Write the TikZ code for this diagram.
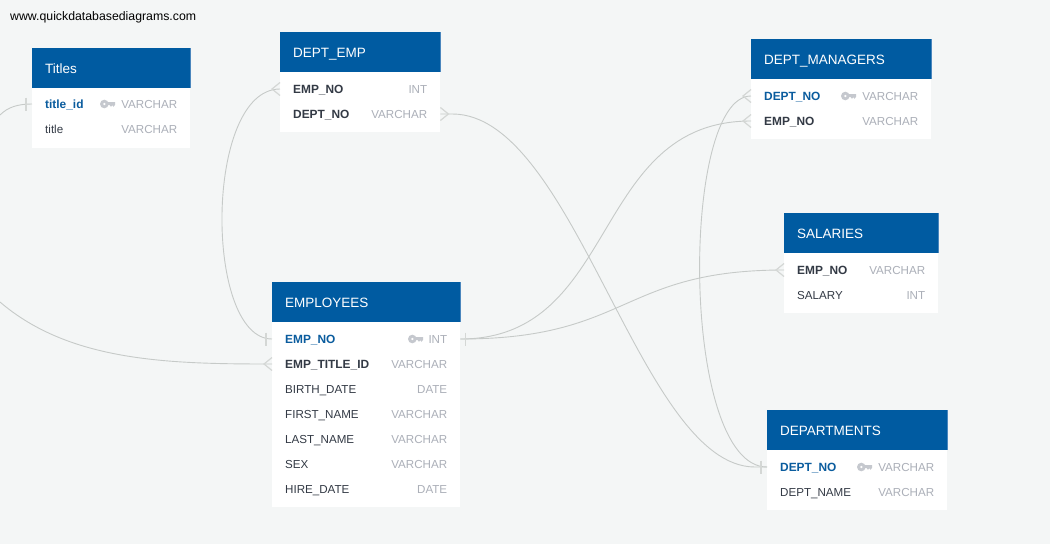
\documentclass[tikz,border=0pt]{standalone}
\usepackage{fontspec}
\setmainfont{Liberation Sans}
\usetikzlibrary{calc}
\definecolor{pagebg}{HTML}{F4F6F6}
\definecolor{headblue}{HTML}{005BA1}
\definecolor{headedge}{HTML}{4A86BD}
\definecolor{keyblue}{HTML}{0A5C9E}
\definecolor{rowtext}{HTML}{333A45}
\definecolor{typetext}{HTML}{ABAFB8}
\definecolor{keygrey}{HTML}{C5C8CE}
\definecolor{linkgrey}{HTML}{C6CAC8}
\definecolor{endgrey}{HTML}{D4D7D5}
\tikzset{
  headbox/.style={fill=headblue, text=white, anchor=north west, inner sep=0pt, minimum height=40pt, text height=10pt, text depth=0pt, font=\fontsize{13.5}{13.5}\selectfont},
  bodybox/.style={fill=white, anchor=north west, inner sep=0pt},
  rowbox/.style={anchor=west, inner sep=0pt, minimum height=25pt},
  colplain/.style={anchor=mid west, inner sep=0pt, text=rowtext, font=\fontsize{11.6}{11.6}\selectfont},
  colfk/.style={colplain, font=\fontsize{11.9}{11.9}\selectfont\bfseries},
  colpk/.style={colfk, text=keyblue},
  coltype/.style={anchor=mid east, inner sep=0pt, text=typetext, font=\fontsize{11.6}{11.6}\selectfont},
  link/.style={draw=linkgrey, line width=0.9pt},
  linkend/.style={draw=endgrey, line width=1.2pt},
  keyicon/.style={fill=keygrey, even odd rule}
}
% table: name, x, top, width, body height, title
\newcommand{\tablehead}[6]{
  \node[headbox, minimum width=#4pt, text width=#4pt-26pt, align=left] (#1) at (#2,#3) {#6};
  \node[bodybox, minimum width=#4pt, minimum height=#5pt] (#1_body) at (#2,#3+40) {};
  \draw[headedge, line width=0.8pt] ($(#1.north east)+(-0.4,0)$) -- ($(#1.south east)+(-0.4,0)$);
}
% row: name, x, y, width, column style, label, type
\newcommand{\tablerow}[7]{
  \node[rowbox, minimum width=#4pt] (#1) at (#2,#3) {};
  \node[#5] (#1_label) at ($(#1.west)+(13,2)$) {#6};
  \node[coltype] (#1_type) at ($(#1.east)+(-13,2)$) {#7};
}
% key glyph, right end given
\newcommand{\keyglyph}[2]{
  \fill[keyicon] (#1-10.7,#2) circle (4.3) (#1-10.7,#2) circle (1.5);
  \fill[keygrey] (#1-7,#2-1.8) -- (#1,#2-1.8) -- (#1,#2+0.8) -- (#1-1.4,#2+2.8) -- (#1-2.8,#2+1.2) -- (#1-4,#2+2.8) -- (#1-5.2,#2+1.2) -- (#1-7,#2+1.2) -- cycle;
}
% connector ends
\newcommand{\tickend}[2]{
  \draw[linkend] ($(#1)+(#2,-6.5)$) -- ($(#1)+(#2,6.5)$);
}
\newcommand{\crowend}[2]{
  \draw[linkend] ($(#1)+(0,-6.5)$) -- ($(#1)+(#2,0)$) -- ($(#1)+(0,6.5)$);
}
\begin{document}
\begin{tikzpicture}[x=1pt, y=-1pt]
\useasboundingbox[fill=pagebg] (0,0) rectangle (1050,544);

\node[anchor=mid west, inner sep=0pt, font=\fontsize{12.3}{12.3}\selectfont] (site) at (10,18) {www.quickdatabasediagrams.com};

% tables
\tablehead{titles}{32}{48}{158}{60}{Titles}
\tablerow{title_id}{32}{104}{158}{colpk}{title\_id}{VARCHAR}
\tablerow{title_col}{32}{129}{158}{colplain}{title}{VARCHAR}
\keyglyph{115}{104}

\tablehead{dept_emp}{280}{32}{160}{60}{DEPT\_EMP}
\tablerow{de_emp_no}{280}{89}{160}{colfk}{EMP\_NO}{INT}
\tablerow{de_dept_no}{280}{114}{160}{colfk}{DEPT\_NO}{VARCHAR}

\tablehead{dept_managers}{751}{39}{180}{60}{DEPT\_MANAGERS}
\tablerow{dm_dept_no}{751}{96}{180}{colpk}{DEPT\_NO}{VARCHAR}
\tablerow{dm_emp_no}{751}{121}{180}{colfk}{EMP\_NO}{VARCHAR}
\keyglyph{856}{96}

\tablehead{salaries}{784}{213}{154}{60}{SALARIES}
\tablerow{sa_emp_no}{784}{270}{154}{colfk}{EMP\_NO}{VARCHAR}
\tablerow{sa_salary}{784}{295}{154}{colplain}{SALARY}{INT}

\tablehead{employees}{272}{282}{188}{185}{EMPLOYEES}
\tablerow{em_emp_no}{272}{339}{188}{colpk}{EMP\_NO}{INT}
\tablerow{em_title_id}{272}{364}{188}{colfk}{EMP\_TITLE\_ID}{VARCHAR}
\tablerow{em_birth}{272}{389}{188}{colplain}{BIRTH\_DATE}{DATE}
\tablerow{em_first}{272}{414}{188}{colplain}{FIRST\_NAME}{VARCHAR}
\tablerow{em_last}{272}{439}{188}{colplain}{LAST\_NAME}{VARCHAR}
\tablerow{em_sex}{272}{464}{188}{colplain}{SEX}{VARCHAR}
\tablerow{em_hire}{272}{489}{188}{colplain}{HIRE\_DATE}{DATE}
\keyglyph{423}{339}

\tablehead{departments}{767}{410}{180}{60}{DEPARTMENTS}
\tablerow{dp_dept_no}{767}{467}{180}{colpk}{DEPT\_NO}{VARCHAR}
\tablerow{dp_name}{767}{492}{180}{colplain}{DEPT\_NAME}{VARCHAR}
\keyglyph{872}{467}

% connectors
\coordinate (off_title) at (0,115);
\coordinate (off_emp) at (0,302);
\draw[link] (title_id.west) .. controls (18,104) and (8,107) .. (off_title);
\draw[link] (off_emp) .. controls (70,362) and (170,364) .. (em_title_id.west);
\draw[link] (em_emp_no.west) .. controls (204,339) and (204,89) .. (de_emp_no.west);
\draw[link] (de_dept_no.east) -- ++(12,0) .. controls (575,114) and (640,467) .. ($(dp_dept_no.west)+(-12,0)$) -- (dp_dept_no.west);
\draw[link] (em_emp_no.east) .. controls (620,339) and (590,121) .. (dm_emp_no.west);
\draw[link] (em_emp_no.east) .. controls (630,339) and (620,270) .. (sa_emp_no.west);
\draw[link] (dp_dept_no.west) .. controls (680,467) and (680,96) .. (dm_dept_no.west);

% connector ends
\tickend{title_id.west}{-6}
\tickend{em_emp_no.west}{-6}
\tickend{em_emp_no.east}{5}
\tickend{dp_dept_no.west}{-6}
\crowend{em_title_id.west}{-8}
\crowend{de_emp_no.west}{-8}
\crowend{de_dept_no.east}{8}
\crowend{dm_dept_no.west}{-8}
\crowend{dm_emp_no.west}{-8}
\crowend{sa_emp_no.west}{-8}
\end{tikzpicture}
\end{document}
